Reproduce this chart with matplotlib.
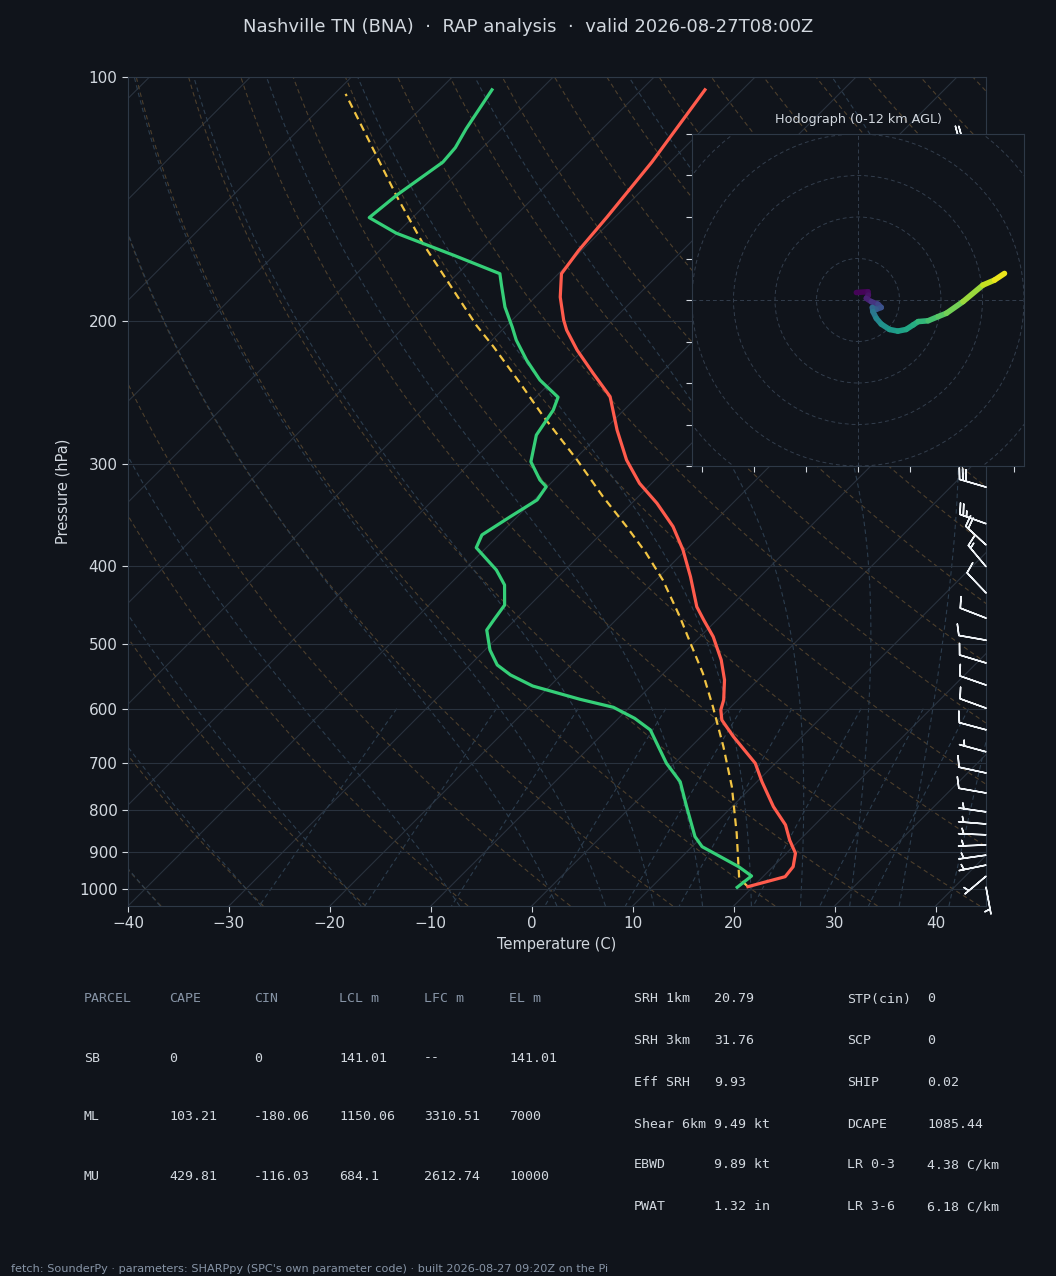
import numpy as np
import matplotlib
matplotlib.use("Agg")
import matplotlib.pyplot as plt
from matplotlib.transforms import Affine2D, blended_transform_factory
from matplotlib.collections import LineCollection
from matplotlib.patches import Circle
from matplotlib.ticker import NullLocator

BG = "#10141b"
FG = "#d2d8df"
DIM = "#8794a6"
GRID = "#29323e"
SPINE = "#2e3947"

# sounding (hPa, degC)
p_temp = [994.0, 966.2, 939.2, 904.1, 870.6, 834.2, 792.2, 738.2, 700.4, 649.5, 619.5,
          602.0, 585.3, 553.0, 522.6, 489.2, 466.5, 449.3, 412.6, 382.4, 357.9, 335.0,
          316.6, 296.3, 272.2, 247.6, 231.7, 216.9, 205.0, 199.2, 186.7, 174.7, 163.5,
          148.7, 127.3, 103.7]
temp = [19.5, 22.2, 22.0, 20.9, 19.0, 17.1, 14.1, 10.5, 8.0, 3.2, 0.4,
        -0.7, -1.4, -3.3, -5.6, -8.7, -11.3, -13.3, -16.9, -20.3, -23.6, -27.5,
        -31.2, -34.8, -38.7, -42.7, -46.7, -50.6, -53.6, -54.9, -57.5, -59.7, -60.3,
        -60.8, -61.8, -63.7]

p_dew = [995.8, 964.3, 939.2, 887.4, 862.5, 792.2, 738.2, 700.4, 637.2, 616.6, 597.6,
         584.2, 562.6, 545.2, 530.0, 508.0, 480.0, 466.5, 447.2, 422.4, 404.8, 380.0,
         366.5, 348.1, 331.9, 319.7, 313.6, 297.8, 276.1, 257.2, 248.0, 236.2, 223.2,
         210.9, 203.2, 192.0, 180.5, 174.7, 165.8, 155.7, 149.0, 139.8, 127.3, 122.2,
         115.8, 103.7]
dewpt = [18.5, 18.8, 16.6, 11.0, 9.3, 5.5, 2.4, -0.8, -5.7, -8.4, -11.6,
         -15.7, -21.7, -25.0, -27.3, -29.5, -31.8, -32.1, -32.5, -34.5, -36.8, -41.0,
         -41.7, -40.7, -39.7, -40.1, -41.4, -44.1, -46.2, -47.0, -47.8, -51.3, -54.6,
         -57.6, -59.3, -62.0, -64.5, -65.8, -72.2, -80.1, -84.3, -83.8, -82.5, -82.7,
         -83.5, -84.8]

p_parcel = [994.0, 970.6, 854.4, 748.5, 668.2, 596.6, 542.7, 498.4, 462.1, 416.6, 386.1,
            357.9, 328.8, 296.3, 262.1, 238.5, 214.9, 202.3, 160.4, 140.5, 104.9]
t_parcel = [19.5, 17.8, 13.1, 8.0, 3.2, -1.8, -6.1, -10.3, -14.0, -19.3, -23.6,
            -28.2, -33.5, -39.7, -47.3, -52.9, -59.2, -63.0, -76.4, -83.6, -98.9]

# wind barbs along the right edge (hPa, kt)
p_wind = [995, 965, 935, 909, 883, 858, 832, 804, 762, 720, 678, 637, 599, 561, 527,
          494, 464, 432, 401, 377, 355, 320, 119]
u_wind = [-0.9, 3.8, 4.9, 5.0, 5.0, 5.0, 5.0, 4.9, 9.8, 9.8, 4.8, 9.7, 9.4, 9.5, 9.6,
          9.8, 9.3, 6.9, 9.6, 14.7, 23.5, 28.8, 20.0]
v_wind = [4.9, 3.2, 1.0, 0.7, 0.2, -0.2, -0.4, -0.7, -1.7, -2.1, -1.3, -2.6, -3.4, -3.3, -2.9,
          -1.7, -3.6, -7.3, -11.5, -13.5, -8.4, -8.4, -0.7]

# hodograph trace, coloured by height (km AGL)
hodo_u = [-0.4, 2.4, 2.5, 2.0, 3.2, 4.8, 5.6, 4.4, 3.45, 3.6, 4.4, 5.6, 7.6, 9.6, 11.6,
          13.3, 14.5, 16.9, 19.3, 21.3, 25.3, 30.1, 32.9, 35.3]
hodo_v = [1.8, 2.0, 1.2, 0.4, -0.4, -1.0, -1.8, -2.25, -1.8, -2.8, -4.4, -5.8, -7.1, -7.5, -7.1,
          -6.0, -5.2, -5.0, -4.0, -3.2, -0.4, 3.6, 4.8, 6.4]
hodo_z = [0.0, 0.2, 0.4, 0.8, 1.4, 2.2, 2.8, 3.3, 3.7, 4.4, 5.2, 5.8, 6.3, 6.7, 7.0,
          7.3, 7.6, 8.2, 8.7, 9.1, 9.8, 10.6, 11.3, 12.0]

# parameter tables
parcel_cols = ["PARCEL", "CAPE", "CIN", "LCL m", "LFC m", "EL m"]
parcel_rows = [["SB", "0", "0", "141.01", "--", "141.01"],
               ["ML", "103.21", "-180.06", "1150.06", "3310.51", "7000"],
               ["MU", "429.81", "-116.03", "684.1", "2612.74", "10000"]]
kin_labels = ["SRH 1km", "SRH 3km", "Eff SRH", "Shear 6km", "EBWD", "PWAT"]
kin_values = ["20.79", "31.76", "9.93", "9.49 kt", "9.89 kt", "1.32 in"]
comp_labels = ["STP(cin)", "SCP", "SHIP", "DCAPE", "LR 0-3", "LR 3-6"]
comp_values = ["0", "0", "0.02", "1085.44", "4.38 C/km", "6.18 C/km"]

title = "Nashville TN (BNA)  \u00b7  RAP analysis  \u00b7  valid 2026-08-27T08:00Z"
footer = ("fetch: SounderPy \u00b7 parameters: SHARPpy (SPC's own parameter code) "
          "\u00b7 built 2026-08-27 09:20Z on the Pi")

# ---------------------------------------------------------------------------
W, H = 1056, 1276
fig = plt.figure(figsize=(W / 100, H / 100), dpi=100, facecolor=BG)
rect = [128 / W, (H - 906) / H, (986 - 128) / W, (906 - 77) / H]
ax = fig.add_axes(rect)
ax.set_facecolor(BG)
ax.set_yscale("log")
ax.set_xlim(-40, 45)
ax.set_ylim(1050, 100)
ax.autoscale(False)

# skew so isotherms run at 45 degrees on screen
shear = np.arctan((rect[3] * H) / (rect[2] * W))
skew = ax.transScale + ax.transLimits + Affine2D().skew(shear, 0) + ax.transAxes

# isotherms
for t in range(-120, 50, 10):
    ax.plot([t, t], [1050, 100], color=GRID, lw=0.8, transform=skew, zorder=1)

plev = np.linspace(1050, 100, 200)

# dry adiabats
dry = []
for th in range(-40, 210, 10):
    tt = (th + 273.15) * (plev / 1000.0) ** 0.2857 - 273.15
    dry.append(np.column_stack([tt, plev]))
ax.add_collection(LineCollection(dry, colors="#4d3f2c", linewidths=0.8,
                                 linestyles=(0, (4, 3)), transform=skew, zorder=1),
                  autolim=False)

# moist adiabats
Rd, Cp, Lv, eps = 287.04749, 1004.6662, 2.50084e6, 0.621957


def dtdp(t, p):
    es = 6.112 * np.exp(17.67 * (t - 273.15) / (t - 29.65))
    rs = eps * es / (p - es)
    return (Rd * t + Lv * rs) / (Cp + Lv * Lv * rs * eps / (Rd * t * t)) / p


def moist(t0):
    out = []
    for grid in (np.linspace(1000, 100, 181), np.linspace(1000, 1050, 11)):
        t = t0 + 273.15
        ts = [t]
        for p1, p2 in zip(grid[:-1], grid[1:]):
            h = p2 - p1
            k1 = dtdp(t, p1)
            k2 = dtdp(t + h * k1 / 2, p1 + h / 2)
            k3 = dtdp(t + h * k2 / 2, p1 + h / 2)
            k4 = dtdp(t + h * k3, p2)
            t = t + h * (k1 + 2 * k2 + 2 * k3 + k4) / 6
            ts.append(t)
        out.append((grid, np.array(ts) - 273.15))
    (pu, tu), (pd, td) = out
    return np.column_stack([np.r_[td[::-1], tu[1:]], np.r_[pd[::-1], pu[1:]]])


moist_t0 = list(range(-40, 0, 10)) + list(range(0, 46, 5))
ax.add_collection(LineCollection([moist(t0) for t0 in moist_t0], colors="#2c3d4e",
                                 linewidths=0.8, linestyles=(0, (4, 3)),
                                 transform=skew, zorder=1), autolim=False)

# mixing ratio lines
pmix = np.linspace(600, 1050, 50)
mix = []
for w in [0.4, 1, 2, 4, 7, 10, 16, 24, 32]:
    e = pmix * (w / 1000) / (eps + w / 1000)
    lg = np.log(e / 6.112)
    mix.append(np.column_stack([243.5 * lg / (17.67 - lg), pmix]))
ax.add_collection(LineCollection(mix, colors="#2c3d4e", linewidths=0.8,
                                 linestyles=(0, (4, 3)), transform=skew, zorder=1),
                  autolim=False)

# profiles
ax.plot(temp, p_temp, color="#ff5b4c", lw=2.3, transform=skew, zorder=4,
        solid_joinstyle="round")
ax.plot(dewpt, p_dew, color="#35cf78", lw=2.3, transform=skew, zorder=4,
        solid_joinstyle="round")
ax.plot(t_parcel, p_parcel, color="#f2c443", lw=1.6, ls=(0, (3.5, 2.3)),
        transform=skew, zorder=3)

# barbs at the right edge
bt = blended_transform_factory(ax.transAxes, ax.transData)
ax.barbs(np.ones(len(p_wind)), p_wind, u_wind, v_wind, transform=bt,
         length=6.3, color="#eef2f6", linewidth=1.1, clip_on=False, zorder=5)

# axes cosmetics
ax.set_yticks(range(100, 1001, 100))
ax.set_yticklabels([str(v) for v in range(100, 1001, 100)])
ax.yaxis.set_minor_locator(NullLocator())
ax.set_xticks(range(-40, 41, 10))
ax.yaxis.grid(True, color=GRID, lw=0.8)
ax.tick_params(colors=FG, labelsize=11, length=4)
for s in ax.spines.values():
    s.set_color(SPINE)
ax.set_xlabel("Temperature (C)", color=FG, fontsize=10.5, labelpad=4)
ax.set_ylabel("Pressure (hPa)", color=FG, fontsize=10.5, labelpad=6)

# hodograph inset
hx = fig.add_axes([692 / W, (H - 467) / H, 332 / W, 334 / H])
hx.set_facecolor(BG)
hx.set_xlim(-40, 40)
hx.set_ylim(-40, 40)
hx.set_aspect("equal")
for r in range(10, 70, 10):
    hx.add_patch(Circle((0, 0), r, fill=False, ls=(0, (4, 3)), lw=0.7, color="#333e4d"))
hx.axhline(0, color="#333e4d", lw=0.7, ls=(0, (4, 3)))
hx.axvline(0, color="#333e4d", lw=0.7, ls=(0, (4, 3)))
pts = np.column_stack([hodo_u, hodo_v])
segs = np.stack([pts[:-1], pts[1:]], axis=1)
zmid = (np.array(hodo_z[:-1]) + np.array(hodo_z[1:])) / 2
lc = LineCollection(segs, cmap="viridis", norm=plt.Normalize(0, 12), linewidths=4,
                    capstyle="round", joinstyle="round")
lc.set_array(zmid)
hx.add_collection(lc)
hx.set_xticks([-37.5, -25, -12.5, 0, 12.5, 25, 37.5])
hx.set_yticks(range(-40, 41, 10))
hx.tick_params(colors=FG, length=4, labelleft=False, labelbottom=False)
for s in hx.spines.values():
    s.set_color(SPINE)
hx.set_title("Hodograph (0-12 km AGL)", color=FG, fontsize=9.2, pad=8)

# title / footer
fig.text(0.5, 1 - 27 / H, title, ha="center", va="center", color=FG, fontsize=13)
fig.text(11 / W, 1 - 1269 / H, footer, ha="left", va="center", color=DIM, fontsize=8.1)

# parcel table
mono = "DejaVu Sans Mono"
col_x = [84, 169, 254, 339, 424, 509]
row_y = [999, 1058, 1117, 1176]
for cx, lab in zip(col_x, parcel_cols):
    fig.text(cx / W, 1 - row_y[0] / H, lab, family=mono, fontsize=9.5, color=DIM,
             va="center")
for ry, row in zip(row_y[1:], parcel_rows):
    for cx, val in zip(col_x, row):
        fig.text(cx / W, 1 - ry / H, val, family=mono, fontsize=9.5, color=FG,
                 va="center")

# index table
idx_y = [999, 1041, 1083, 1124, 1165, 1207]
for ry, l1, v1, l2, v2 in zip(idx_y, kin_labels, kin_values, comp_labels, comp_values):
    fig.text(634 / W, 1 - ry / H, l1, family=mono, fontsize=9.5, color=FG, va="center")
    fig.text(714 / W, 1 - ry / H, v1, family=mono, fontsize=9.5, color=FG, va="center")
    fig.text(847 / W, 1 - ry / H, l2, family=mono, fontsize=9.5, color=FG, va="center")
    fig.text(927 / W, 1 - ry / H, v2, family=mono, fontsize=9.5, color=FG, va="center")

fig.savefig("out.png", dpi=100, facecolor=BG)
